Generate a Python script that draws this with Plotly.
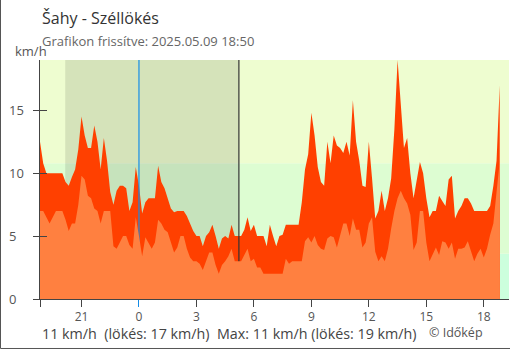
import pandas as pd
import plotly.graph_objects as go

# ---------------- data ----------------
station_title = "Šahy - Széllökés"
updated_text = "Grafikon frissítve: 2025.05.09 18:50"
unit = "km/h"
copyright_text = "© Időkép"

start_time = "2025-05-08 18:50"   # first 10-minute sample
axis_end = "2025-05-09 19:19"

# wind gust (km/h), 10-minute samples
gust = [
    12.5, 10.8, 10.0, 10.0, 10.0, 10.0, 10.0, 10.0, 9.3, 9.0,
    9.7, 10.3, 11.9, 14.5, 13.0, 12.0, 12.0, 13.8, 12.5, 10.3,
    12.8, 11.0, 8.5, 7.5, 8.6, 9.0, 9.0, 8.8, 7.0, 7.7,
    10.5, 9.0, 6.8, 7.7, 8.0, 8.0, 8.0, 10.6, 9.3, 8.8,
    8.0, 7.2, 6.9, 7.0, 7.0, 7.0, 6.6, 6.0, 5.4, 5.0,
    5.0, 4.2, 5.0, 5.3, 5.9, 5.0, 4.0, 4.8, 5.0, 4.8,
    5.9, 5.0, 5.0, 5.0, 5.5, 6.5, 5.4, 5.9, 5.0, 5.0,
    5.0, 4.2, 5.9, 5.0, 4.2, 5.0, 5.1, 5.9, 5.9, 5.9,
    5.9, 5.9, 7.7, 10.3, 11.5, 14.8, 13.0, 10.5, 9.3, 9.0,
    12.5, 10.8, 13.0, 12.2, 12.0, 11.6, 12.5, 11.4, 15.8, 12.5,
    11.0, 9.0, 8.9, 12.5, 9.6, 6.4, 7.0, 8.6, 7.0, 8.0,
    9.6, 13.5, 19.0, 15.5, 12.0, 12.8, 10.0, 8.0, 9.5, 10.9,
    10.0, 8.0, 6.5, 7.0, 7.0, 8.2, 7.8, 7.4, 9.5, 9.8,
    6.4, 7.0, 7.4, 8.0, 8.0, 7.6, 7.0, 7.0, 7.0, 7.0,
    7.0, 7.4, 9.0, 11.0, 17.0,
]

# mean wind (km/h), 10-minute samples
mean = [
    7.0, 7.0, 6.5, 6.0, 6.5, 7.0, 7.0, 7.0, 6.3, 5.4,
    6.0, 6.0, 7.5, 9.8, 9.5, 8.2, 8.0, 7.2, 7.0, 6.0,
    7.0, 7.0, 7.0, 4.2, 4.0, 4.5, 5.0, 5.0, 4.3, 4.0,
    6.5, 5.0, 3.4, 4.9, 4.5, 4.0, 4.5, 6.3, 6.0, 5.5,
    5.3, 4.5, 3.7, 4.1, 5.0, 5.0, 4.0, 3.3, 3.0, 3.0,
    2.8, 2.3, 3.0, 3.7, 3.7, 2.7, 2.0, 2.7, 3.0, 3.4,
    4.0, 3.0, 3.0, 3.0, 3.5, 4.0, 3.0, 3.2, 2.5, 2.5,
    2.0, 2.0, 2.0, 2.0, 2.0, 2.0, 2.0, 3.2, 2.8, 3.0,
    3.0, 3.0, 3.0, 4.6, 4.9, 4.5, 5.0, 4.3, 4.0, 3.9,
    4.8, 5.0, 4.9, 4.1, 5.0, 6.0, 6.0, 5.0, 6.4, 5.5,
    5.5, 4.1, 4.5, 6.0, 6.5, 3.75, 3.0, 3.4, 3.0, 4.0,
    5.6, 7.0, 8.0, 8.6, 8.0, 7.6, 6.7, 3.9, 4.5, 7.0,
    7.0, 4.5, 3.0, 3.6, 4.1, 3.5, 4.6, 4.5, 4.0, 4.5,
    3.2, 4.0, 4.0, 4.1, 4.6, 3.8, 3.0, 3.6, 4.0, 3.3,
    4.0, 5.1, 6.0, 8.5, 10.9,
]

tick_times = ["2025-05-08 21:00", "2025-05-09 03:00", "2025-05-09 06:00",
              "2025-05-09 09:00", "2025-05-09 12:00", "2025-05-09 15:00",
              "2025-05-09 18:00"]
tick_text = ["21", "3", "6", "9", "12", "15", "18"]
midnight = "2025-05-09 00:00"
midnight_label = "0"
sunset = "2025-05-08 20:09"
sunrise = "2025-05-09 05:13"

y_ticks = [0, 5, 10, 15]
y_max = 19
band_edges = [0, 3.6, 10.8, 19]
band_colors = ["rgb(204,255,221)", "rgb(221,253,210)", "rgb(238,253,208)"]

# ---------------- figure ----------------
times = pd.date_range(start_time, periods=len(gust), freq="10min")

GUST_COLOR = "#FF4000"
MEAN_COLOR = "#FF8040"
AXIS_COLOR = "#444444"
TEXT_COLOR = "#555555"
BLUE = "rgb(20,140,230)"
FONT = "Open Sans"

fig = go.Figure()

fig.add_trace(go.Scatter(x=times, y=gust, mode="lines", fill="tozeroy",
                         line=dict(width=0, color=GUST_COLOR),
                         fillcolor=GUST_COLOR, hoverinfo="skip", showlegend=False))
fig.add_trace(go.Scatter(x=[midnight, midnight], y=[0, y_max], mode="lines",
                         line=dict(width=1.2, color=BLUE),
                         hoverinfo="skip", showlegend=False))
fig.add_trace(go.Scatter(x=[sunrise, sunrise], y=[0, y_max], mode="lines",
                         line=dict(width=1.2, color="#333333"),
                         hoverinfo="skip", showlegend=False))
fig.add_trace(go.Scatter(x=times, y=mean, mode="lines", fill="tozeroy",
                         line=dict(width=0, color=MEAN_COLOR),
                         fillcolor=MEAN_COLOR, hoverinfo="skip", showlegend=False))
# dummy traces to activate overlay axes (blue midnight tick, inner y ticks)
fig.add_trace(go.Scatter(x=[midnight], y=[None], xaxis="x2", yaxis="y",
                         hoverinfo="skip", showlegend=False))
fig.add_trace(go.Scatter(x=[midnight], y=[None], xaxis="x", yaxis="y2",
                         hoverinfo="skip", showlegend=False))

shapes = []
for i, col in enumerate(band_colors):
    shapes.append(dict(type="rect", xref="paper", yref="y", x0=0, x1=1,
                       y0=band_edges[i], y1=band_edges[i + 1],
                       fillcolor=col, line=dict(width=0), layer="below"))
shapes.append(dict(type="rect", xref="x", yref="paper", x0=sunset, x1=sunrise,
                   y0=0, y1=1, fillcolor="rgba(0,0,0,0.1)",
                   line=dict(width=0), layer="below"))
# outer frame (left + bottom)
shapes.append(dict(type="path", xref="paper", yref="paper",
                   path="M -0.0842,1.26 L -0.0842,-0.2071 L 1.01,-0.2071",
                   line=dict(color="#555555", width=1), layer="above"))

annotations = [
    dict(text=station_title, xref="paper", yref="paper", x=0, y=1.176,
         xanchor="left", yanchor="middle", showarrow=False,
         font=dict(size=16, color="#333333", family=FONT)),
    dict(text=updated_text, xref="paper", yref="paper", x=0, y=1.0795,
         xanchor="left", yanchor="middle", showarrow=False,
         font=dict(size=13, color="#666666", family=FONT)),
    dict(text=unit, xref="paper", yref="paper", x=-0.0576, y=1.0377,
         xanchor="left", yanchor="middle", showarrow=False,
         font=dict(size=13, color=TEXT_COLOR, family=FONT)),
]
for v in y_ticks:
    annotations.append(dict(text=str(v), xref="paper", yref="y", x=-0.0704, y=v,
                            xanchor="left", yanchor="middle", showarrow=False,
                            font=dict(size=13, color=TEXT_COLOR, family=FONT)))

cur_mean = round(mean[-1])
cur_gust = round(gust[-1])
max_mean = round(max(mean))
max_gust = round(max(gust))
nb = "\u00a0"
summary = (f"{cur_mean} {unit}{nb} (lökés: {cur_gust} {unit}){nb} "
           f"Max: {max_mean} {unit} (lökés: {max_gust} {unit})")
annotations.append(dict(text=summary, xref="paper", yref="paper", x=0, y=-0.1464,
                        xanchor="left", yanchor="middle", showarrow=False,
                        font=dict(size=14.3, color="#444444", family=FONT)))
annotations.append(dict(text=copyright_text, xref="paper", yref="paper", x=0.8245,
                        y=-0.139, xanchor="left", yanchor="middle", showarrow=False,
                        font=dict(size=12.5, color=TEXT_COLOR, family=FONT)))

x_range = [start_time, axis_end]
fig.update_layout(
    width=510, height=350,
    margin=dict(l=40, r=1, t=60, b=51),
    paper_bgcolor="white", plot_bgcolor="rgba(0,0,0,0)",
    font=dict(family=FONT, size=12, color=TEXT_COLOR),
    shapes=shapes, annotations=annotations,
    xaxis=dict(type="date", range=x_range, tickvals=[start_time] + tick_times,
               ticktext=[""] + tick_text, ticks="outside", ticklen=7,
               tickcolor=AXIS_COLOR, showline=True, linecolor=AXIS_COLOR,
               showgrid=False, zeroline=False, fixedrange=True,
               tickfont=dict(size=12, color=TEXT_COLOR)),
    xaxis2=dict(type="date", range=x_range, overlaying="x", anchor="y",
                side="bottom", tickvals=[midnight], ticktext=[midnight_label],
                ticks="outside", ticklen=7, tickcolor=BLUE,
                showline=False, showgrid=False, zeroline=False,
                tickfont=dict(size=12, color=TEXT_COLOR)),
    yaxis=dict(range=[0, y_max], tickvals=y_ticks, ticks="outside", ticklen=6,
               tickcolor=AXIS_COLOR, showticklabels=False, showline=True,
               linecolor=AXIS_COLOR, showgrid=False, zeroline=False),
    yaxis2=dict(range=[0, y_max], tickvals=y_ticks, ticks="inside", ticklen=7,
                tickcolor=AXIS_COLOR, showticklabels=False, overlaying="y",
                anchor="x", side="left", showline=False, showgrid=False,
                zeroline=False),
)

fig.write_html("out.html")
